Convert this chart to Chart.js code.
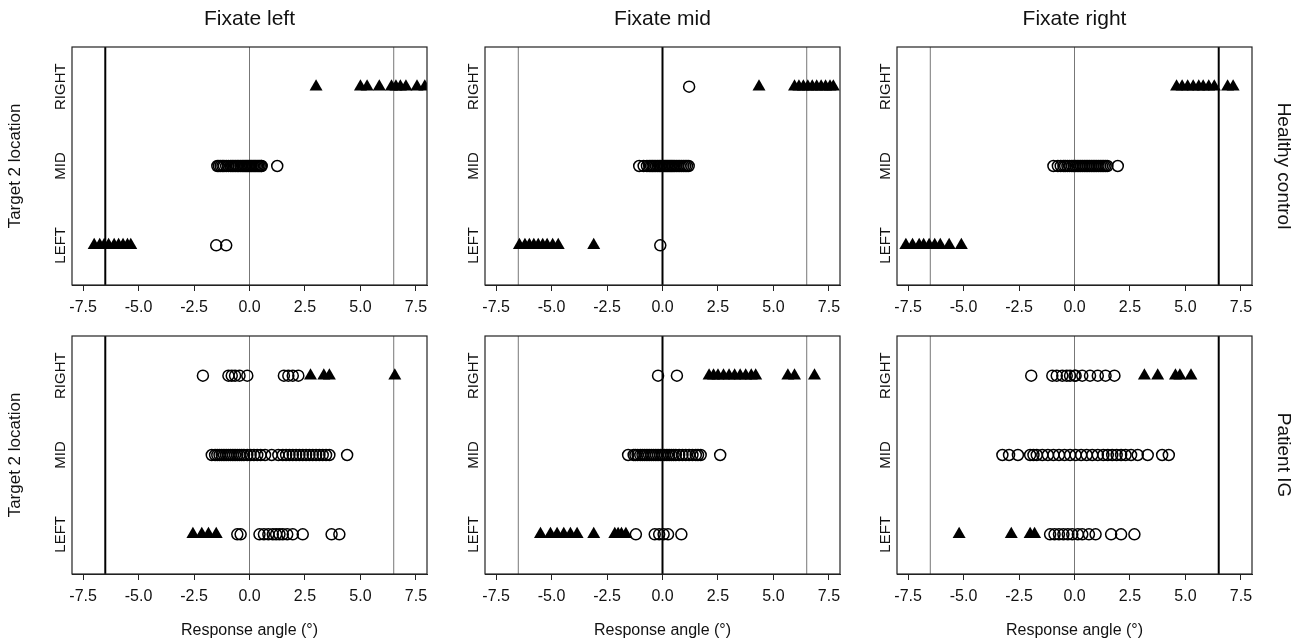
<!DOCTYPE html>
<html>
<head>
<meta charset="utf-8">
<title>Target 2 location by response angle</title>
<script src="https://cdn.jsdelivr.net/npm/chart.js@4.4.0/dist/chart.umd.min.js"></script>
<style>
    html, body { margin: 0; padding: 0; background: #fff; }
    body { width: 1304px; height: 640px; position: relative; overflow: hidden; }
    .panel { position: absolute; }
</style>
</head>
<body>
<script>
// Axis setup
const xTicks = [-7.5, -5, -2.5, 0, 2.5, 5, 7.5];
const yCats = ['LEFT', 'MID', 'RIGHT'];
const fixations = [-6.5, 0, 6.5];
const colTitles = ['Fixate left', 'Fixate mid', 'Fixate right'];
const rowTitles = ['Healthy control', 'Patient IG'];

// Response angles, one list per target row: [LEFT, MID, RIGHT]
// Healthy control
const hcLeftCircles = [
    [-1.5, -1.05],
    [-1.45, -1.38, -1.3, -1.22, -1.15, -1.05, -0.95, -0.85, -0.78, -0.7, -0.62, -0.55, -0.48, -0.4, -0.33, -0.26, -0.2,
     -0.14, -0.08, -0.02, 0.04, 0.1, 0.16, 0.22, 0.28, 0.34, 0.4, 0.46, 0.52, 0.55, 1.25],
    []
];
const hcLeftTriangles = [
    [-7.0, -6.75, -6.55, -6.35, -6.1, -5.9, -5.7, -5.5, -5.35],
    [],
    [3.0, 5.0, 5.3, 5.85, 6.4, 6.6, 6.8, 7.05, 7.55, 7.9]
];
const hcMidCircles = [
    [-0.1],
    [-1.05, -0.85, -0.7, -0.6, -0.52, -0.45, -0.38, -0.3, -0.22, -0.15, -0.08, 0.0, 0.06, 0.12, 0.18, 0.24, 0.3, 0.36,
     0.42, 0.48, 0.55, 0.62, 0.7, 0.78, 0.86, 0.94, 1.02, 1.1, 1.18],
    [1.2]
];
const hcMidTriangles = [
    [-6.45, -6.2, -6.0, -5.8, -5.6, -5.4, -5.2, -4.95, -4.7, -3.1],
    [],
    [4.35, 5.95, 6.15, 6.35, 6.55, 6.75, 6.95, 7.15, 7.35, 7.55, 7.7]
];
const hcRightCircles = [
    [],
    [-0.95, -0.75, -0.62, -0.5, -0.42, -0.32, -0.22, -0.12, -0.04, 0.04, 0.12, 0.2, 0.28, 0.36, 0.44, 0.52, 0.6, 0.68,
     0.76, 0.84, 0.92, 1.0, 1.08, 1.16, 1.24, 1.32, 1.4, 1.48, 1.95],
    []
];
const hcRightTriangles = [
    [-7.6, -7.3, -7.0, -6.8, -6.55, -6.3, -6.05, -5.65, -5.1],
    [],
    [4.6, 4.85, 5.1, 5.35, 5.6, 5.8, 6.05, 6.3, 6.9, 7.15]
];
// Patient IG
const pgLeftCircles = [
    [-0.55, -0.4, 0.45, 0.65, 0.85, 1.05, 1.2, 1.35, 1.5, 1.7, 1.95, 2.4, 3.7, 4.05],
    [-1.7, -1.55, -1.45, -1.35, -1.25, -1.15, -1.05, -0.95, -0.85, -0.75, -0.65, -0.55, -0.45, -0.35, -0.25, -0.1, 0.05,
     0.2, 0.35, 0.5, 0.7, 1.0, 1.3, 1.5, 1.65, 1.8, 1.95, 2.1, 2.25, 2.4, 2.55, 2.7, 2.85, 3.0, 3.15, 3.3, 3.45, 3.6, 4.4],
    [-2.1, -0.95, -0.8, -0.65, -0.45, -0.1, 1.55, 1.75, 1.95, 2.2]
];
const pgLeftTriangles = [
    [-2.55, -2.15, -1.85, -1.5],
    [],
    [2.75, 3.35, 3.6, 6.55]
];
const pgMidCircles = [
    [-1.2, -0.35, -0.15, 0.05, 0.25, 0.85],
    [-1.55, -1.3, -1.22, -1.12, -1.0, -0.9, -0.8, -0.7, -0.6, -0.5, -0.4, -0.3, -0.2, -0.1, 0.0, 0.1, 0.2, 0.3, 0.4, 0.5,
     0.6, 0.75, 0.9, 1.05, 1.2, 1.35, 1.5, 1.6, 1.72, 2.6],
    [-0.2, 0.65]
];
const pgMidTriangles = [
    [-5.5, -5.05, -4.75, -4.45, -4.15, -3.85, -3.1, -2.15, -2.0, -1.85, -1.65],
    [],
    [2.1, 2.3, 2.5, 2.75, 3.0, 3.25, 3.5, 3.75, 4.0, 4.2, 5.65, 5.95, 6.85]
];
const pgRightCircles = [
    [-1.1, -0.9, -0.7, -0.5, -0.3, -0.1, 0.15, 0.35, 0.65, 0.95, 1.65, 2.1, 2.7],
    [-3.25, -2.95, -2.55, -2.0, -1.85, -1.7, -1.45, -1.2, -0.95, -0.7, -0.45, -0.2, 0.05, 0.3, 0.55, 0.8, 1.05, 1.3, 1.5,
     1.7, 1.9, 2.1, 2.3, 2.55, 2.85, 3.3, 3.95, 4.25],
    [-1.95, -1.0, -0.8, -0.55, -0.35, -0.2, 0.0, 0.05, 0.35, 0.7, 1.05, 1.4, 1.8]
];
const pgRightTriangles = [
    [-5.2, -2.85, -2.0, -1.8],
    [],
    [3.15, 3.75, 4.55, 4.75, 5.25]
];

const panels = [
    { row: 0, col: 0, circles: hcLeftCircles, triangles: hcLeftTriangles },
    { row: 0, col: 1, circles: hcMidCircles, triangles: hcMidTriangles },
    { row: 0, col: 2, circles: hcRightCircles, triangles: hcRightTriangles },
    { row: 1, col: 0, circles: pgLeftCircles, triangles: pgLeftTriangles },
    { row: 1, col: 1, circles: pgMidCircles, triangles: pgMidTriangles },
    { row: 1, col: 2, circles: pgRightCircles, triangles: pgRightTriangles }
];

// Page layout
const colLeft = [0, 413, 825];
const colWidth = [439, 439, 479];
const rowTop = [0, 320];
const panelHeight = 320;

Chart.defaults.font.family = "'Liberation Sans', Arial, sans-serif";
Chart.defaults.color = '#111';

// y labels are rotated and centred, so shift them by half the widest label
const probe = document.createElement('canvas').getContext('2d');
probe.font = "15px 'Liberation Sans', Arial, sans-serif";
const widestY = Math.max(...yCats.map(t => probe.measureText(t).width));
const yLabelPad = 11 - widestY / 2;

// R-style box round the plot area
const framePlugin = {
    id: 'frame',
    afterDraw(chart) {
        const { ctx, chartArea: a } = chart;
        ctx.save();
        ctx.strokeStyle = '#222';
        ctx.lineWidth = 1.2;
        ctx.strokeRect(a.left, a.top, a.right - a.left, a.bottom - a.top);
        ctx.restore();
    }
};

function toPoints(rows) {
    const pts = [];
    rows.forEach((vals, i) => vals.forEach(v => pts.push({ x: v, y: i + 1 })));
    return pts;
}

function makePanel(p) {
    const wrap = document.createElement('div');
    wrap.className = 'panel';
    wrap.style.left = colLeft[p.col] + 'px';
    wrap.style.top = rowTop[p.row] + 'px';
    const canvas = document.createElement('canvas');
    canvas.width = colWidth[p.col];
    canvas.height = panelHeight;
    wrap.appendChild(canvas);
    document.body.appendChild(wrap);

    const isTop = p.row === 0;

    const datasets = [
        {
            data: toPoints(p.circles),
            pointStyle: 'circle',
            pointRadius: 5.5,
            borderColor: '#000',
            borderWidth: 1.5,
            backgroundColor: 'rgba(0,0,0,0)',
            order: 0
        },
        {
            data: toPoints(p.triangles),
            pointStyle: 'triangle',
            pointRadius: 7.5,
            backgroundColor: '#000',
            borderColor: '#000',
            borderWidth: 0,
            order: 0
        }
    ];
    fixations.forEach((f, i) => {
        const own = i === p.col;
        datasets.push({
            data: [{ x: f, y: 0.5 }, { x: f, y: 3.5 }],
            showLine: true,
            pointRadius: 0,
            borderColor: own ? '#000' : '#777',
            borderWidth: own ? 2 : 1,
            order: 1
        });
    });

    return new Chart(canvas, {
        type: 'scatter',
        data: { datasets },
        options: {
            responsive: false,
            animation: false,
            events: [],
            layout: {
                padding: { top: isTop ? 0 : 16, right: p.col === 2 ? 0 : 12, bottom: 0, left: 0 }
            },
            plugins: {
                legend: { display: false },
                tooltip: { enabled: false },
                title: {
                    display: isTop,
                    text: colTitles[p.col],
                    fullSize: false,
                    font: { size: 21, weight: 'normal' },
                    color: '#111',
                    padding: { top: 7, bottom: 14.8 }
                },
                subtitle: {
                    display: p.col === 2,
                    position: 'right',
                    text: rowTitles[p.row],
                    fullSize: false,
                    font: { size: 19 },
                    color: '#111',
                    padding: { top: 9.6, bottom: 19.6 }
                }
            },
            scales: {
                x: {
                    type: 'linear',
                    position: 'bottom',
                    min: -8,
                    max: 8,
                    afterBuildTicks: s => { s.ticks = xTicks.map(v => ({ value: v })); },
                    afterFit: s => { s.height = isTop ? 35 : 66; },
                    ticks: {
                        callback: v => Number(v).toFixed(1),
                        font: { size: 16 },
                        color: '#111',
                        padding: 7,
                        autoSkip: false,
                        minRotation: 0,
                        maxRotation: 0
                    },
                    grid: { drawOnChartArea: false, drawTicks: true, tickLength: 6, color: '#222', lineWidth: 1 },
                    border: { display: true, color: '#222', width: 1 },
                    title: {
                        display: !isTop,
                        text: 'Response angle (°)',
                        font: { size: 16 },
                        color: '#111',
                        padding: { top: 0, bottom: 0 }
                    }
                },
                y: {
                    type: 'linear',
                    min: 0.5,
                    max: 3.5,
                    afterBuildTicks: s => { s.ticks = yCats.map((c, i) => ({ value: i + 1 })); },
                    afterFit: s => { s.width = 72; },
                    ticks: {
                        callback: (v, i) => yCats[i],
                        font: { size: 15 },
                        color: '#111',
                        minRotation: 90,
                        maxRotation: 90,
                        crossAlign: 'center',
                        padding: yLabelPad
                    },
                    grid: { display: false, drawTicks: false },
                    border: { display: false },
                    title: {
                        display: p.col === 0,
                        text: 'Target 2 location',
                        font: { size: 17 },
                        color: '#111',
                        padding: { top: 5, bottom: 0 }
                    }
                }
            }
        },
        plugins: [framePlugin]
    });
}

let charts;
document.addEventListener('DOMContentLoaded', () => {
    charts = panels.map(makePanel);
});
</script>
</body>
</html>
